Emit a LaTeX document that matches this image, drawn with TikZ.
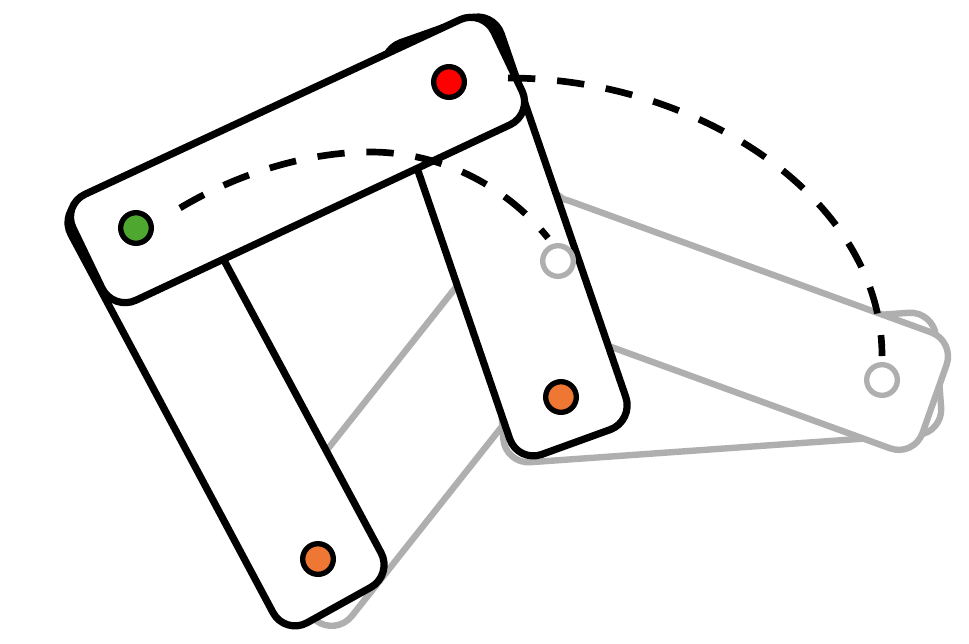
\documentclass[tikz,border=0pt]{standalone}
\definecolor{linkgray}{HTML}{AFAFAF}
\definecolor{pivotred}{HTML}{FF0000}
\definecolor{pivotgreen}{HTML}{4EA72E}
\definecolor{pivotorange}{HTML}{ED7733}
\tikzset{
  blacklink/.style={draw=black,fill=white,line width=5.4pt,rounded corners=19pt,line join=round},
  graylink/.style={draw=linkgray,fill=white,line width=4.8pt,rounded corners=19pt,line join=round},
  pivot/.style={circle,draw=black,line width=4pt,minimum size=23pt,inner sep=0pt},
  ghostpivot/.style={circle,draw=linkgray,fill=white,line width=4pt,minimum size=23pt,inner sep=0pt},
  sweep/.style={draw=black,line width=5pt,dash pattern=on 20.5pt off 16.4pt,line cap=butt}
}
\begin{document}
\begin{tikzpicture}[x=0.75pt,y=-0.75pt]
\useasboundingbox (0,0) rectangle (969,643);
% grey (earlier) positions
\draw[graylink] (336,636) -- (637,256) -- (540,181) -- (239,561) -- cycle;
\draw[graylink] (505,464) -- (943,433) -- (934,311) -- (496.5,342) -- cycle;
\draw[graylink] (955,341) -- (914,457) -- (504,308) -- (545,192) -- cycle;
% black (current) positions
\draw[blacklink] (59,212) -- (168,156) -- (393,575) -- (285,635) -- cycle;
\draw[blacklink] (377,51) -- (493,10) -- (634,421) -- (518,463) -- cycle;
\draw[blacklink] (62,205) -- (483,9) -- (533,114) -- (113,311) -- cycle;
% pivots
\node[ghostpivot] (ghostA) at (558,261) {};
\node[ghostpivot] (ghostB) at (882,380) {};
\node[pivot,fill=pivotgreen] (green) at (136,228) {};
\node[pivot,fill=pivotred] (red) at (449,82) {};
\node[pivot,fill=pivotorange] (orangeA) at (561,397) {};
\node[pivot,fill=pivotorange] (orangeB) at (318,559) {};
% sweeps
\coordinate (sweepAstart) at (180,208);
\coordinate (sweepBstart) at (508,78);
\draw[sweep] (sweepAstart) .. controls (240,172) and (310,152) .. (370,152) .. controls (440,152) and (505,185) .. (548,238);
\draw[sweep] (sweepBstart) .. controls (700,78) and (882,200) .. (882,356);
\end{tikzpicture}
\end{document}
